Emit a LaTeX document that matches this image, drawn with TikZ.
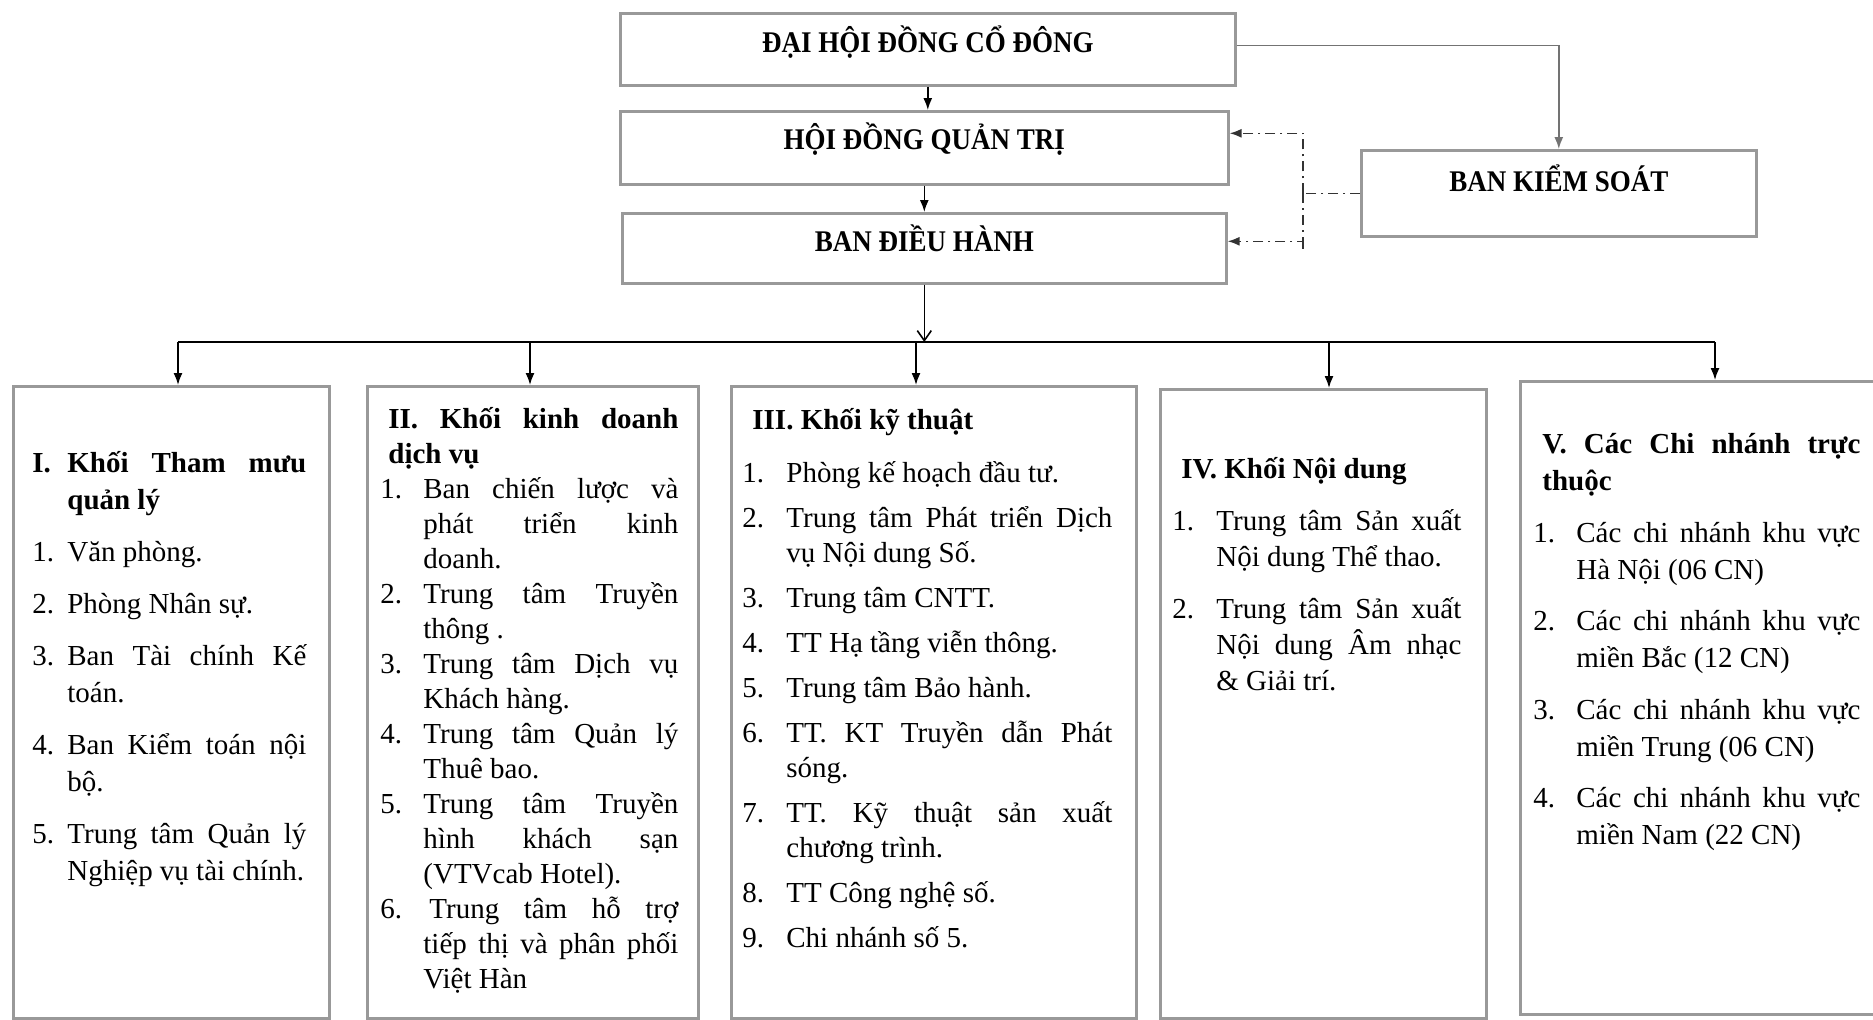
\documentclass[tikz,border=0pt]{standalone}
\usepackage{fontspec}
\setmainfont{Liberation Serif}
\newfontfamily\condfont[FakeStretch=0.9]{Liberation Serif}
\usetikzlibrary{arrows.meta,calc}
\newlength\numcolw
\newcommand\itm[2]{\par\noindent\hangindent=\numcolw\hangafter=1\makebox[\numcolw][l]{#1}#2}
\begin{document}
\begin{tikzpicture}[x=0.5pt,y=-0.5pt,
  box/.style={draw=black!40, line width=1.3pt, inner sep=0pt, anchor=north west},
  lbl/.style={font=\condfont\bfseries\fontsize{15}{18}\selectfont, inner sep=0pt},
  content/.style={anchor=north west, inner sep=0pt, align=justify},
  arr/.style={-{Latex[length=6pt,width=4.5pt]}, line width=0.8pt, black},
  grayarr/.style={-{Latex[length=6pt,width=4.5pt]}, line width=0.8pt, black!55},
  dd/.style={line width=0.8pt, black!80, dash pattern=on 5pt off 2.5pt on 1pt off 2.5pt},
  ddarr/.style={dd, -{Latex[length=6pt,width=4.5pt]}}]
\useasboundingbox (0,0) rectangle (1873,1019);
\fill[white] (0,0) rectangle (1873,1019);
% top boxes
\node[box, minimum width=307.5pt, minimum height=36pt,
  label={[lbl,yshift=3.5pt]center:ĐẠI HỘI ĐỒNG CỔ ĐÔNG}] (A) at (619,12) {};
\node[box, minimum width=304pt, minimum height=36.5pt,
  label={[lbl,yshift=4.25pt]center:HỘI ĐỒNG QUẢN TRỊ}] (B) at (619,110) {};
\node[box, minimum width=302pt, minimum height=35pt,
  label={[lbl,yshift=4.8pt]center:BAN ĐIỀU HÀNH}] (C) at (621,212) {};
\node[box, minimum width=197.5pt, minimum height=43pt,
  label={[lbl,yshift=7.5pt]center:BAN KIỂM SOÁT}] (D) at (1360,149) {};
% lower boxes
\node[box, minimum width=158pt, minimum height=316pt] (b1) at (12,385) {};
\node[box, minimum width=165.5pt, minimum height=316pt] (b2) at (366,385) {};
\node[box, minimum width=202.5pt, minimum height=316pt] (b3) at (730,385) {};
\node[box, minimum width=163pt, minimum height=314.5pt] (b4) at (1159,388) {};
\node[box, minimum width=180pt, minimum height=316.5pt] (b5) at (1519,380) {};
% connectors top
\draw[arr] (A.south) -- (A.south |- B.north);
\draw[arr] (B.south) -- (B.south |- C.north);
\draw[grayarr] ([yshift=2pt]A.east) -| (D.north);
\coordinate (kv) at (1303,188);
\draw[dd] (D.west) -- (kv |- D.west);
\draw[ddarr] (kv |- D.west) |- ([yshift=7.25pt]B.east);
\draw[ddarr] (kv |- D.west) |- ([yshift=3.5pt]C.east);
\draw[dd] ([yshift=3.5pt]C.east -| kv) -- ++(0,8);
% bus
\coordinate (bus) at (0,342);
\coordinate (d1) at (178,342);
\coordinate (d2) at (530,342);
\coordinate (d3) at (916,342);
\coordinate (d4) at (1329,342);
\coordinate (d5) at (1715,342);
\draw[line width=0.8pt, -{Straight Barb[length=5pt,width=7pt]}] (C.south) -- (C.south |- bus);
\draw[line width=0.8pt] (d1) -- (d5);
\foreach \i in {1,...,5} {\draw[arr] (d\i) -- (d\i |- b\i.north);}
% contents
\node[content, text width=137pt, font=\fontsize{14.5}{18.5}\selectfont] (t1) at (32,420) {%
\setlength\parskip{7.5pt}\setlength\numcolw{17.5pt}%
\itm{\textbf{I.}}{\textbf{Khối Tham mưu\linebreak quản lý}}
\itm{1.}{Văn phòng.}
\itm{2.}{Phòng Nhân sự.}
\itm{3.}{Ban Tài chính Kế\linebreak toán.}
\itm{4.}{Ban Kiểm toán nội\linebreak bộ.}
\itm{5.}{Trung tâm Quản lý\linebreak Nghiệp vụ tài chính.}\par};
\node[content, text width=149pt, font=\fontsize{14.5}{17.5}\selectfont] (t2) at (380,407) {%
\setlength\parskip{0pt}\setlength\numcolw{21.5pt}%
{\noindent\leftskip=4pt\bfseries II. Khối kinh doanh\linebreak dịch vụ\par}
\itm{1.}{Ban chiến lược và\linebreak phát triển kinh\linebreak doanh.}
\itm{2.}{Trung tâm Truyền\linebreak thông .}
\itm{3.}{Trung tâm Dịch vụ\linebreak Khách hàng.}
\itm{4.}{Trung tâm Quản lý\linebreak Thuê bao.}
\itm{5.}{Trung tâm Truyền\linebreak hình khách sạn\linebreak (VTVcab Hotel).}
\itm{6.}{\hspace*{3pt}Trung tâm hỗ trợ\linebreak tiếp thị và phân phối\linebreak Việt Hàn}\par};
\node[content, text width=185pt, font=\fontsize{14.5}{17.5}\selectfont] (t3) at (742,408) {%
\setlength\parskip{5pt}\setlength\numcolw{22pt}%
{\noindent\leftskip=5pt\bfseries III. Khối kỹ thuật\par}\vspace{4pt}
\itm{1.}{Phòng kế hoạch đầu tư.}
\itm{2.}{Trung tâm Phát triển Dịch\linebreak vụ Nội dung Số.}
\itm{3.}{Trung tâm CNTT.}
\itm{4.}{TT Hạ tầng viễn thông.}
\itm{5.}{Trung tâm Bảo hành.}
\itm{6.}{TT. KT Truyền dẫn Phát\linebreak sóng.}
\itm{7.}{TT. Kỹ thuật sản xuất\linebreak chương trình.}
\itm{8.}{TT Công nghệ số.}
\itm{9.}{Chi nhánh số 5.}\par};
\node[content, text width=144.5pt, font=\fontsize{14.5}{18}\selectfont] (t4) at (1172,457) {%
\setlength\parskip{8pt}\setlength\numcolw{22pt}%
{\noindent\leftskip=4.5pt\bfseries IV. Khối Nội dung\par}
\itm{1.}{Trung tâm Sản xuất\linebreak Nội dung Thể thao.}
\itm{2.}{Trung tâm Sản xuất\linebreak Nội dung Âm nhạc\linebreak \& Giải trí.}\par};
\node[content, text width=163.5pt, font=\fontsize{14.5}{18.5}\selectfont] (t5) at (1533,433) {%
\setlength\parskip{7.3pt}\setlength\numcolw{21.5pt}%
{\noindent\leftskip=4.5pt\bfseries V. Các Chi nhánh trực\linebreak thuộc\par}
\itm{1.}{Các chi nhánh khu vực\linebreak Hà Nội (06 CN)}
\itm{2.}{Các chi nhánh khu vực\linebreak miền Bắc (12 CN)}
\itm{3.}{Các chi nhánh khu vực\linebreak miền Trung (06 CN)}
\itm{4.}{Các chi nhánh khu vực\linebreak miền Nam (22 CN)}\par};
\end{tikzpicture}
\end{document}
